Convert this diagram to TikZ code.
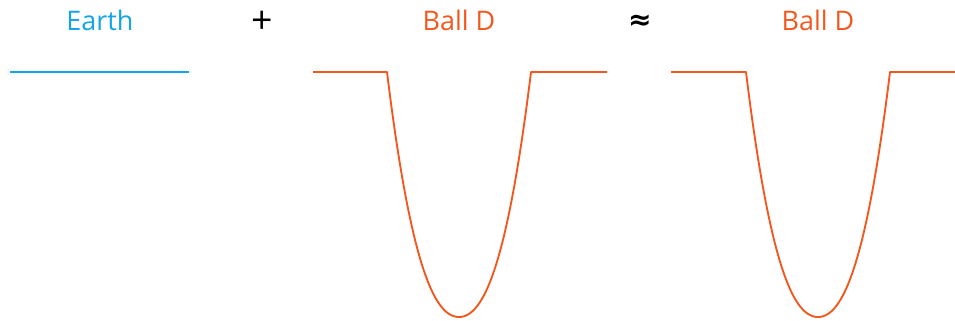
\documentclass[tikz,border=0pt]{standalone}
\usepackage{fontspec}
\setmainfont{Open Sans}
\newfontfamily\symfont{DejaVu Sans}
\usepackage{xcolor}
\usepackage{tikz}
\usetikzlibrary{positioning}
\definecolor{earthblue}{RGB}{20,164,232}
\definecolor{ballorange}{RGB}{242,88,30}
\tikzstyle{label} = [font=\fontsize{23}{26}\selectfont, inner sep=0pt]
\tikzstyle{sign} = [font=\fontsize{32}{34}\selectfont, inner sep=0pt]
\tikzstyle{approxsign} = [font={\symfont\bfseries\fontsize{24}{26}\selectfont}, inner sep=0pt]
\tikzstyle{earthline} = [line width=1.6pt, earthblue]
\tikzstyle{ballline} = [line width=1.6pt, ballorange, line join=round]

\begin{document}
\begin{tikzpicture}[x=0.03cm, y=-0.03cm]

    \useasboundingbox (0,0) rectangle (955,321);

    \node (earth) [label, earthblue] at (100,20) {Earth};
    \node (plus) [sign] at (262,22) {+};
    \node (approx) [approxsign] at (640,22) {≈};
    \node (ballA) [label, ballorange] at (459,20) {Ball D};
    \node (ballB) [label, ballorange] at (818,20) {Ball D};

    \draw [earthline] (10,72) -- (189,72);

    \draw [ballline] (313,72) -- (387,72)
        -- plot[domain=-72:72, samples=97] ({459+\x}, {317-245*(0.6*(\x/72)^2+0.4*abs(\x/72)^3)})
        -- (607,72);
    \draw [ballline] (671,72) -- (746,72)
        -- plot[domain=-72:72, samples=97] ({818+\x}, {317-245*(0.6*(\x/72)^2+0.4*abs(\x/72)^3)})
        -- (955,72);

\end{tikzpicture}
\end{document}
